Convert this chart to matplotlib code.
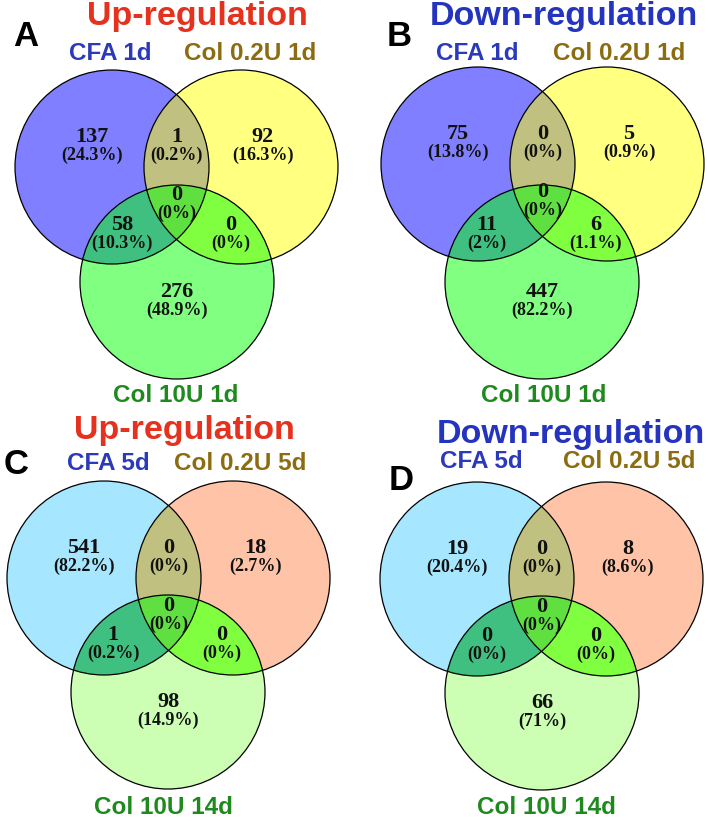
import numpy as np
import matplotlib
matplotlib.use("Agg")
import matplotlib.pyplot as plt
from matplotlib.patches import Circle, Polygon

# region order: only1, 1&2, only2, 1&2&3, 1&3, 2&3, only3
counts_A = [137, 1, 92, 0, 58, 0, 276]
pcts_A = ["24.3%", "0.2%", "16.3%", "0%", "10.3%", "0%", "48.9%"]
counts_B = [75, 0, 5, 0, 11, 6, 447]
pcts_B = ["13.8%", "0%", "0.9%", "0%", "2%", "1.1%", "82.2%"]
counts_C = [541, 0, 18, 0, 1, 0, 98]
pcts_C = ["82.2%", "0%", "2.7%", "0%", "0.2%", "0%", "14.9%"]
counts_D = [19, 0, 8, 0, 0, 0, 66]
pcts_D = ["20.4%", "0%", "8.6%", "0%", "0%", "0%", "71%"]

sets_1d = ["CFA 1d", "Col 0.2U 1d", "Col 10U 1d"]
sets_5d = ["CFA 5d", "Col 0.2U 5d", "Col 10U 14d"]
titles = ["Up-regulation", "Down-regulation", "Up-regulation", "Down-regulation"]
letters = ["A", "B", "C", "D"]

# fill colours: only1, only2, only3, 12, 13, 23, 123
fills_top = ["#7f7fff", "#ffff80", "#80ff80", "#c0c080", "#40c080", "#80ff40", "#60e040"]
fills_bot = ["#a6e6ff", "#ffc4a8", "#ccffb3", "#c0c080", "#40c080", "#80ff40", "#60e040"]

red = "#e5321e"
blue = "#2434bf"
lab_cols = ["#2a3ab8", "#8c6c10", "#1e8a1e"]

R = 97
# layout: circle centres (pixels), title pos, letter pos, label positions
panels = [
    dict(c=[(112, 167), (241, 167), (177, 282)], title=(197, 16), letter=(26, 37),
         labs=[(110, 53), (250, 53), (176, 395)]),
    dict(c=[(478, 164), (607, 164), (542, 282)], title=(564, 16), letter=(399, 37),
         labs=[(477, 53), (619, 53), (544, 395)]),
    dict(c=[(104, 578), (233, 578), (168, 692)], title=(184, 430), letter=(16, 465),
         labs=[(108, 463), (240, 463), (163, 808)]),
    dict(c=[(477, 579), (606, 579), (542, 693)], title=(571, 435), letter=(401, 480),
         labs=[(481, 462), (629, 462), (546, 808)]),
]
all_counts = [counts_A, counts_B, counts_C, counts_D]
all_pcts = [pcts_A, pcts_B, pcts_C, pcts_D]
all_sets = [sets_1d, sets_1d, sets_5d, sets_5d]
all_fills = [fills_top, fills_top, fills_bot, fills_bot]
title_cols = [red, blue, red, blue]

fig = plt.figure(figsize=(7.08, 8.21), dpi=100)
ax = fig.add_axes([0, 0, 1, 1])
ax.set_xlim(0, 708)
ax.set_ylim(821, 0)
ax.axis("off")

sans = "Liberation Sans"
serif = "Liberation Serif"


def lens(p1, p2, r):
    # polygon of the intersection of two equal circles
    p1 = np.array(p1, float); p2 = np.array(p2, float)
    d = np.linalg.norm(p2 - p1)
    ang = np.arctan2(*(p2 - p1)[::-1])
    th = np.arccos(d / 2 / r)
    t1 = np.linspace(ang - th, ang + th, 80)
    t2 = np.linspace(ang + np.pi - th, ang + np.pi + th, 80)
    a = np.c_[p1[0] + r * np.cos(t1), p1[1] + r * np.sin(t1)]
    b = np.c_[p2[0] + r * np.cos(t2), p2[1] + r * np.sin(t2)]
    return np.vstack([a, b])


for i, lay in enumerate(panels):
    c1, c2, c3 = lay["c"]
    f = all_fills[i]
    circ = []
    for c, col in zip(lay["c"], f[:3]):
        p = Circle(c, R, facecolor=col, edgecolor="none")
        ax.add_patch(p)
        circ.append(p)
    # pairwise overlaps
    for a_idx, b_idx, col in [(0, 1, f[3]), (0, 2, f[4]), (1, 2, f[5])]:
        p = Circle(lay["c"][b_idx], R, facecolor=col, edgecolor="none")
        ax.add_patch(p)
        p.set_clip_path(circ[a_idx])
    # triple overlap
    lp = Polygon(lens(c1, c2, R), closed=True, facecolor="none", edgecolor="none")
    ax.add_patch(lp)
    p = Circle(c3, R, facecolor=f[6], edgecolor="none")
    ax.add_patch(p)
    p.set_clip_path(lp)
    for c in lay["c"]:
        ax.add_patch(Circle(c, R, facecolor="none", edgecolor="black", lw=0.9))

    # region text positions relative to circle centres
    pos = [
        (c1[0] - 20, c1[1] - 21),
        ((c1[0] + c2[0]) / 2, c1[1] - 21),
        (c2[0] + 22, c2[1] - 21),
        ((c1[0] + c2[0]) / 2, c1[1] + 37),
        (c3[0] - 55, c3[1] - 48),
        (c3[0] + 54, c3[1] - 48),
        (c3[0], c3[1] + 19),
    ]
    for (x, y), n, pc in zip(pos, all_counts[i], all_pcts[i]):
        ax.text(x, y - 9, str(n), ha="center", va="center", fontsize=16,
                fontweight="bold", family=serif, color="#111111")
        ax.text(x, y + 9, "(" + pc + ")", ha="center", va="center", fontsize=13,
                fontweight="bold", family=serif, color="#111111")

    ax.text(*lay["title"], titles[i], ha="center", va="center", fontsize=24.5,
            fontweight="bold", family=sans, color=title_cols[i])
    ax.text(*lay["letter"], letters[i], ha="center", va="center", fontsize=25,
            fontweight="bold", family=sans, color="black")
    for (x, y), lab, col in zip(lay["labs"], all_sets[i], lab_cols):
        ax.text(x, y, lab, ha="center", va="center", fontsize=17.5,
                fontweight="bold", family=sans, color=col)

fig.savefig("out.png", dpi=100)
